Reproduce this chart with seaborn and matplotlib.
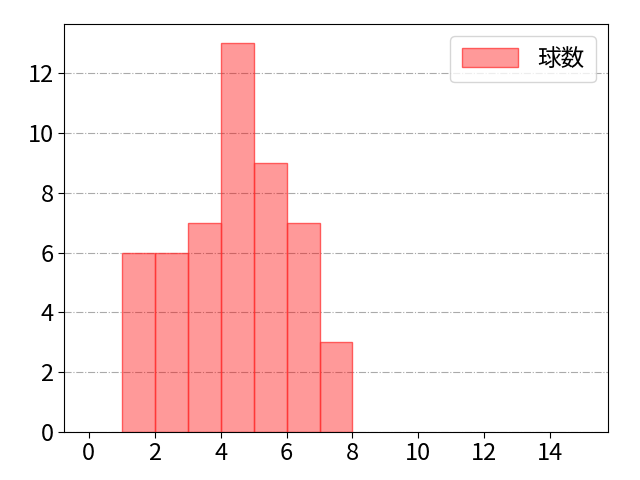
import numpy as np
import pandas as pd
import seaborn as sns
import matplotlib
matplotlib.use('Agg')
import matplotlib.pyplot as plt

# pitch-count histogram, bins of width 1 from 0 to 15
bin_edges = list(range(0, 16))
bin_left = list(range(0, 15))
counts = [0, 6, 6, 7, 13, 9, 7, 3, 0, 0, 0, 0, 0, 0, 0]
label = '球数'

sns.set_style('white')
plt.rcParams['font.family'] = ['Noto Sans CJK JP', 'DejaVu Sans']
plt.rcParams['font.size'] = 17
plt.rcParams['text.color'] = 'black'
plt.rcParams['xtick.color'] = 'black'
plt.rcParams['ytick.color'] = 'black'

df = pd.DataFrame({'pitch': bin_left, 'n': counts})

fig, ax = plt.subplots(figsize=(6.4, 4.8), dpi=100)
sns.histplot(data=df, x='pitch', weights='n', bins=bin_edges, ax=ax,
             facecolor=(1, 0, 0, 0.4), edgecolor=(1, 0.2, 0.2, 0.75),
             linewidth=1, alpha=None, label=label)
# empty bins leave no outline
for p in ax.patches:
    if p.get_height() == 0:
        p.set_linewidth(0)
ax.margins(x=0.05, y=0.05)
ax.set_xticks(range(0, 16, 2))
ax.set_yticks(range(0, 14, 2))
ax.set_xlabel('')
ax.set_ylabel('')
ax.tick_params(axis='both', labelsize=17, length=4, color='black', labelcolor='black',
               left=True, bottom=True)
ax.grid(axis='y', linestyle='-.', color='#aaaaaa', linewidth=0.8)
ax.set_axisbelow(True)
for s in ax.spines.values():
    s.set_color('black')
leg = ax.legend(loc='upper right', fontsize=17, handlelength=2.4, handleheight=0.9,
                borderpad=0.5)
for h in leg.legend_handles:
    h.set_edgecolor((1, 0.2, 0.2, 0.75))
    h.set_linewidth(1)
fig.subplots_adjust(left=0.1, right=0.95, top=0.95, bottom=0.1)
plt.savefig('out.png')
